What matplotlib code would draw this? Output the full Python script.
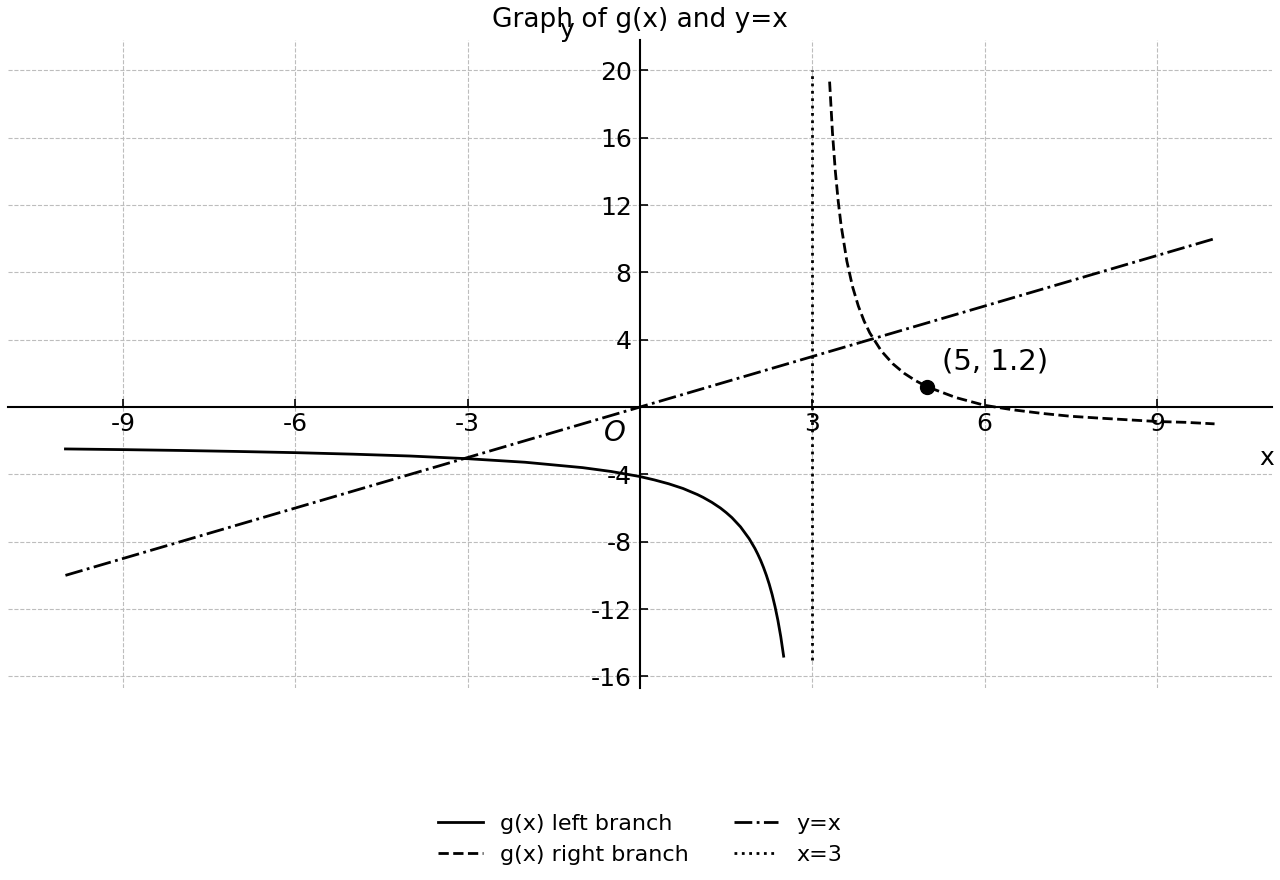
import matplotlib
matplotlib.use("Agg")
import matplotlib.pyplot as plt

# ---- data ----
left_x = [-10, -9, -8, -7, -6, -5, -4, -3, -2, -1, -0.5, 0, 0.25, 0.5, 0.75, 1, 1.1,
          1.25, 1.4, 1.5, 1.6, 1.75, 1.9, 2.0, 2.05, 2.1, 2.15, 2.2, 2.25, 2.3, 2.35,
          2.4, 2.45, 2.5]
left_y = [-2.49, -2.53, -2.58, -2.64, -2.71, -2.80, -2.91, -3.07, -3.28, -3.60, -3.83,
          -4.13, -4.33, -4.56, -4.84, -5.20, -5.37, -5.66, -6.00, -6.27, -6.57, -7.12,
          -7.82, -8.40, -8.74, -9.11, -9.53, -10.00, -10.53, -11.14, -11.85, -12.67,
          -13.64, -14.80]

right_x = [3.3, 3.35, 3.4, 3.45, 3.5, 3.6, 3.7, 3.8, 3.9, 4.0, 4.2, 4.4, 4.6, 4.8, 5.0,
           5.5, 6.0, 6.5, 7.0, 7.5, 8.0, 8.5, 9.0, 9.5, 10.0]
right_y = [19.33, 16.29, 14.0, 12.22, 10.8, 8.67, 7.14, 6.0, 5.11, 4.4, 3.33, 2.57, 2.0,
           1.56, 1.2, 0.56, 0.1, -0.17, -0.38, -0.55, -0.66, -0.76, -0.86, -0.91, -1.0]

line_x = [-10, 10]
line_y = [-10, 10]

asym_x = [3, 3]
asym_y = [-15, 20]

point = (5, 1.2)
point_label = "(5, 1.2)"

xticks = [-9, -6, -3, 3, 6, 9]
yticks = [-16, -12, -8, -4, 4, 8, 12, 16, 20]

title = "Graph of g(x) and y=x"
labels = ["g(x) left branch", "g(x) right branch", "y=x", "x=3"]

# ---- figure ----
fig = plt.figure(figsize=(12.8, 8.8), dpi=100)
ax = fig.add_axes([0.00625, 0.218, 0.9875, 0.7365])

lw = 2.0
ax.plot(left_x, left_y, color="black", lw=lw, ls="-", label=labels[0])
ax.plot(right_x, right_y, color="black", lw=lw, ls="--", label=labels[1])
ax.plot(line_x, line_y, color="black", lw=lw, ls="-.", label=labels[2])
ax.plot(asym_x, asym_y, color="black", lw=lw, ls=":", label=labels[3])

ax.plot([point[0]], [point[1]], "o", color="black", markersize=10, zorder=5)
ax.text(point[0] + 0.25, point[1] + 1.5, point_label, fontsize=21, va="center", ha="left")

ax.set_xlim(-11, 11)
ax.set_ylim(-16.7, 21.8)

ax.spines["left"].set_position(("data", 0))
ax.spines["bottom"].set_position(("data", 0))
ax.spines["right"].set_visible(False)
ax.spines["top"].set_visible(False)
for s in ("left", "bottom"):
    ax.spines[s].set_linewidth(1.5)

ax.set_xticks(xticks)
ax.set_yticks(yticks)
ax.set_xticklabels([str(t) for t in xticks])
ax.set_yticklabels([str(t) for t in yticks])
ax.tick_params(direction="in", length=5.5, width=1.2, labelsize=18)
ax.tick_params(axis="y", pad=6)

ax.grid(True, ls="--", color="#bdbdbd", lw=0.8)
ax.set_axisbelow(True)

ax.text(-0.43, -1.55, "O", fontsize=20, fontstyle="italic", ha="center", va="center")
ax.text(0.996, 0.355, "x", transform=ax.transAxes, fontsize=18, ha="center", va="center")
ax.text(0.442, 1.016, "y", transform=ax.transAxes, fontsize=18, ha="center", va="center")

ax.set_title(title, fontsize=19, pad=9.5)

fig.legend(loc="center", bbox_to_anchor=(0.5, 0.046), bbox_transform=fig.transFigure,
           ncol=2, frameon=False, fontsize=16)

fig.savefig("out.png", dpi=100)
